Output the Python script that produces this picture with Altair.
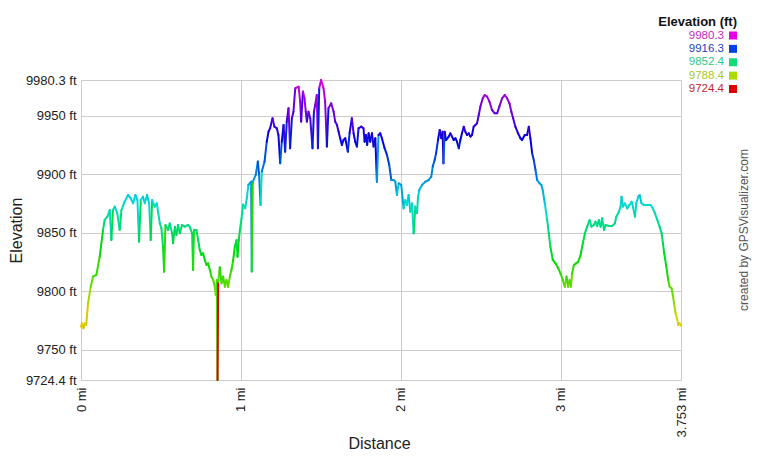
import altair as alt
import pandas as pd

dist = [
    0.000, 0.006, 0.015, 0.023, 0.033, 0.044, 0.061, 0.075, 0.096, 0.117,
    0.138, 0.148, 0.165, 0.180, 0.190, 0.200, 0.211, 0.227, 0.242, 0.253,
    0.273, 0.294, 0.311, 0.326, 0.340, 0.353, 0.363, 0.374, 0.388, 0.399,
    0.413, 0.426, 0.436, 0.445, 0.461, 0.474, 0.482, 0.493, 0.503, 0.513,
    0.520, 0.528, 0.545, 0.555, 0.570, 0.576, 0.587, 0.597, 0.607, 0.618,
    0.632, 0.649, 0.670, 0.680, 0.695, 0.701, 0.707, 0.722, 0.733, 0.743,
    0.753, 0.764, 0.774, 0.785, 0.795, 0.806, 0.816, 0.827, 0.837, 0.843,
    0.850, 0.854, 0.858, 0.868, 0.879, 0.889, 0.900, 0.910, 0.920, 0.931,
    0.941, 0.952, 0.962, 0.973, 0.979, 0.987, 0.994, 1.004, 1.014,
    1.027, 1.037, 1.047, 1.064, 1.068, 1.075, 1.093, 1.106, 1.114, 1.123,
    1.131, 1.148, 1.162, 1.173, 1.183, 1.198, 1.210, 1.225, 1.235, 1.246,
    1.256, 1.267, 1.277, 1.287, 1.298, 1.308, 1.319, 1.329, 1.340, 1.361,
    1.371, 1.377, 1.388, 1.398, 1.406, 1.413, 1.423, 1.434, 1.448, 1.457,
    1.465, 1.475, 1.482, 1.490, 1.502, 1.517, 1.527, 1.538, 1.548, 1.565,
    1.580, 1.590, 1.601, 1.611, 1.621, 1.632, 1.642, 1.653, 1.669, 1.680,
    1.694, 1.705, 1.715, 1.726, 1.736, 1.753, 1.767, 1.774, 1.782, 1.790,
    1.799, 1.809, 1.820, 1.830, 1.841, 1.851, 1.861, 1.872, 1.882, 1.899,
    1.914, 1.928, 1.941, 1.955, 1.966, 1.976, 1.987, 2.003,
    2.018, 2.029, 2.039, 2.049, 2.060, 2.070, 2.081, 2.091, 2.102, 2.108,
    2.116, 2.133, 2.154, 2.175, 2.191, 2.200, 2.212, 2.221, 2.233, 2.244,
    2.254, 2.262, 2.267, 2.275, 2.283, 2.300, 2.310, 2.321, 2.331, 2.342,
    2.352, 2.363, 2.373, 2.383, 2.394, 2.404, 2.415, 2.425, 2.436, 2.446,
    2.456, 2.467, 2.477, 2.488, 2.498, 2.513, 2.525, 2.540, 2.555, 2.571,
    2.588, 2.603, 2.617, 2.634, 2.651, 2.665, 2.680, 2.692, 2.703, 2.717,
    2.734, 2.749, 2.759, 2.776, 2.790, 2.801, 2.811, 2.822, 2.832, 2.843,
    2.853, 2.868, 2.880, 2.888, 2.901, 2.916, 2.926, 2.936, 2.951, 2.968,
    2.985, 2.999, 3.014, 3.026, 3.037, 3.047, 3.056, 3.064, 3.072, 3.083,
    3.097, 3.110, 3.125, 3.139, 3.152, 3.166, 3.181, 3.193, 3.208, 3.218,
    3.229, 3.239, 3.250, 3.260, 3.271, 3.281, 3.302, 3.323, 3.339, 3.348,
    3.365, 3.375, 3.381, 3.390, 3.402, 3.417, 3.431, 3.444, 3.452, 3.465,
    3.473, 3.486, 3.494, 3.506, 3.521, 3.542, 3.563, 3.577, 3.590, 3.605,
    3.619, 3.632, 3.640, 3.648, 3.661, 3.673, 3.682, 3.694, 3.703, 3.711,
    3.719, 3.728, 3.736, 3.744, 3.753,
]
elev = [
    9769.9, 9772.7, 9768.5, 9772.7, 9771.3, 9789.8, 9804.0, 9812.6, 9814.0, 9829.6,
    9852.4, 9860.9, 9863.7, 9869.4, 9843.8, 9869.4, 9872.3, 9866.6, 9852.4, 9869.4,
    9876.5, 9882.2, 9879.4, 9875.1, 9882.2, 9877.9, 9842.4, 9877.9, 9880.8, 9875.1,
    9882.2, 9875.1, 9843.8, 9877.9, 9872.3, 9875.1, 9868.0, 9858.0, 9853.8, 9838.1,
    9816.8, 9856.6, 9852.4, 9858.0, 9849.5, 9841.0, 9855.2, 9848.1, 9856.6, 9849.5,
    9856.6, 9855.2, 9856.6, 9855.2, 9849.5, 9818.2, 9852.4, 9852.4, 9843.8, 9835.3,
    9831.0, 9832.5, 9826.8, 9822.5, 9823.9, 9818.2, 9812.6, 9809.7, 9804.0, 9796.9,
    9809.7, 9724.4, 9808.3, 9820.5, 9806.9, 9812.6, 9804.0, 9809.7, 9804.0, 9812.6,
    9818.2, 9826.8, 9838.1, 9843.8, 9829.6, 9843.8, 9852.4, 9862.0, 9874.0,
    9870.9, 9879.4, 9890.8, 9893.6, 9816.9, 9893.6, 9899.3, 9910.7, 9899.3, 9873.7,
    9902.2, 9910.7, 9927.7, 9936.3, 9939.1, 9947.6, 9940.5, 9939.1, 9933.4, 9909.3,
    9927.7, 9942.0, 9919.2, 9944.8, 9956.2, 9922.1, 9947.6, 9953.3, 9973.2, 9974.6,
    9961.9, 9944.8, 9970.4, 9964.7, 9953.3, 9944.8, 9953.3, 9947.6, 9922.1, 9953.3,
    9959.0, 9967.5, 9922.1, 9973.2, 9980.3, 9973.2, 9961.9, 9923.5, 9956.2, 9960.4,
    9953.3, 9944.8, 9942.0, 9936.3, 9930.6, 9924.9, 9929.2, 9930.6, 9919.2, 9934.9,
    9947.6, 9934.9, 9927.7, 9923.5, 9939.1, 9940.5, 9939.1, 9927.7, 9933.4, 9924.9,
    9934.9, 9927.7, 9934.9, 9923.5, 9930.6, 9893.6, 9933.4, 9934.9, 9930.6, 9922.1,
    9916.4, 9907.8, 9895.0, 9895.0, 9893.6, 9882.2, 9892.2, 9890.8,
    9870.8, 9878.0, 9873.7, 9882.2, 9868.0, 9875.1, 9849.5, 9872.3, 9866.6, 9880.8,
    9886.5, 9890.7, 9893.6, 9895.0, 9897.9, 9906.4, 9912.1, 9917.8, 9929.1, 9937.7,
    9930.6, 9936.2, 9909.2, 9936.2, 9929.1, 9932.0, 9934.8, 9932.0, 9929.1, 9930.6,
    9927.7, 9922.0, 9929.1, 9934.8, 9940.5, 9936.2, 9933.4, 9934.8, 9932.0, 9933.4,
    9940.5, 9941.9, 9943.3, 9950.4, 9957.6, 9964.7, 9967.5, 9966.1, 9961.8, 9954.7,
    9951.9, 9951.9, 9957.6, 9964.7, 9967.5, 9964.7, 9960.4, 9953.3, 9947.6, 9940.5,
    9934.8, 9930.6, 9929.1, 9933.4, 9933.4, 9940.5, 9930.6, 9917.8, 9912.1, 9903.5,
    9895.0, 9892.2, 9890.7, 9886.5, 9875.1, 9860.9, 9849.5, 9838.1, 9826.8, 9823.9,
    9819.7, 9815.4, 9809.7, 9804.0, 9812.6, 9804.0, 9809.7, 9804.0, 9815.4, 9822.5,
    9823.9, 9825.3, 9831.0, 9841.0, 9849.5, 9855.2, 9860.9, 9855.2, 9856.6, 9859.5,
    9855.8, 9860.9, 9855.2, 9862.3, 9852.4, 9856.6, 9855.8, 9855.8, 9858.0, 9863.7,
    9868.0, 9872.3, 9880.8, 9872.3, 9875.1, 9870.8, 9873.7, 9876.5, 9872.3, 9863.7,
    9875.1, 9880.8, 9882.2, 9875.1, 9873.7, 9873.7, 9873.7, 9870.8, 9866.6, 9860.9,
    9855.2, 9849.5, 9841.0, 9832.5, 9821.1, 9809.7, 9804.0, 9802.6, 9795.5, 9788.4,
    9781.3, 9777.0, 9771.3, 9772.8, 9770.8,
]

x_ticks = [0, 1, 2, 3, 3.753]
y_ticks = [9724.4, 9750, 9800, 9850, 9900, 9950, 9980.3]

stop_values = [9724.4, 9788.4, 9852.4, 9916.3, 9980.3]
stop_colors = ["#db0000", "#a4db00", "#00db6e", "#0037db", "#db00db"]

legend_title = ["Elevation (ft)"]
legend_labels = ["9980.3", "9916.3", "9852.4", "9788.4", "9724.4"]
legend_text_colors = ["#c81fc8", "#2043bb", "#2fc887", "#a6c81f", "#c81f1f"]
legend_box_colors = ["#e600e6", "#0040e6", "#10dc78", "#aadc00", "#dc0000"]
credit = ["created by GPSVisualizer.com"]

FONT = "Liberation Sans"

seg = pd.DataFrame({
    "d": dist[:-1], "e": elev[:-1],
    "d2": dist[1:], "e2": elev[1:],
})

line = alt.Chart(seg).mark_rule(strokeWidth=2, strokeCap="round").encode(
    x=alt.X(
        "d:Q",
        scale=alt.Scale(domain=[0, 3.753], nice=False, zero=False),
        axis=alt.Axis(
            values=x_ticks,
            labelExpr="format(datum.value, '.3~f') + ' mi'",
            labelAngle=270, labelAlign="right", labelBaseline="middle",
            labelPadding=7, labelFlush=False, labelOverlap=False,
            title="Distance", titleX=298, titleY=63,
            titleAlign="center", titleBaseline="middle",
        ),
    ),
    x2="d2:Q",
    y=alt.Y(
        "e:Q",
        scale=alt.Scale(domain=[9724.4, 9980.3], nice=False, zero=False),
        axis=alt.Axis(
            values=y_ticks,
            labelExpr="format(datum.value, '.1~f') + ' ft'",
            labelPadding=5, labelFlush=False, labelOverlap=False,
            title="Elevation", titleX=-65, titleY=150, titleAngle=270,
            titleAlign="center", titleBaseline="middle",
        ),
    ),
    y2="e2:Q",
    stroke=alt.Stroke(
        "e:Q",
        scale=alt.Scale(domain=stop_values, range=stop_colors, interpolate="hsl"),
        legend=None,
    ),
)

leg = pd.DataFrame({
    "row": list(range(len(legend_labels))),
    "label": legend_labels,
    "tc": legend_text_colors,
    "bc": legend_box_colors,
})
ypos = alt.Y("row:O", axis=None,
             scale=alt.Scale(type="point", range=[-44.5, 9], padding=0))

leg_text = alt.Chart(leg).mark_text(
    align="right", baseline="middle", fontSize=11.5, font=FONT, x=643
).encode(y=ypos, text="label:N", fill=alt.Fill("tc:N", scale=None))

leg_box = alt.Chart(leg).mark_square(
    size=64, filled=True, opacity=1, x=652
).encode(y=ypos, fill=alt.Fill("bc:N", scale=None))

leg_title = alt.Chart(pd.DataFrame({"t": legend_title})).mark_text(
    align="right", baseline="middle", fontSize=13, fontWeight="bold",
    font=FONT, color="#111111", x=656, y=-58.5
).encode(text="t:N")

credit_text = alt.Chart(pd.DataFrame({"t": credit})).mark_text(
    angle=270, align="center", baseline="middle", fontSize=12,
    font=FONT, color="#555555", x=663, y=150
).encode(text="t:N")

chart = alt.layer(line, leg_text, leg_box, leg_title, credit_text).resolve_scale(
    y="independent", fill="independent"
).properties(
    width=600, height=300,
    padding={"left": 73, "top": 72, "right": 71, "bottom": 72},
    autosize=alt.AutoSizeParams(type="none"),
    background="white",
).configure_view(
    stroke="#cccccc", strokeWidth=1
).configure_axis(
    grid=True, gridColor="#cccccc", gridWidth=1,
    domain=False, ticks=False,
    labelFont=FONT, labelFontSize=13, labelColor="#222222",
    titleFont=FONT, titleFontSize=16, titleFontWeight="normal", titleColor="#222222",
)

chart.save("out.html", embed_options={"renderer": "svg", "actions": False})
